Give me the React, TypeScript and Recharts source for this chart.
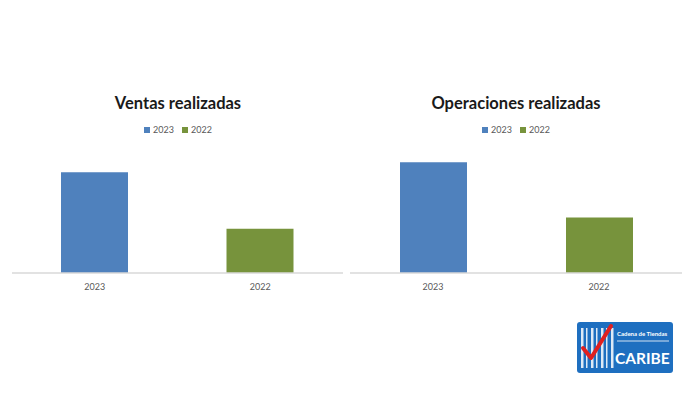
import React from "react";
import { BarChart, Bar, XAxis, YAxis } from "recharts";

const categories = ["2023", "2022"];
const seriesNames = ["2023", "2022"];
const ventasValues = [100, 44];
const operacionesValues = [100, 50];
const colors = ["#4f81bd", "#77933c"];

function buildRows(values: number[]) {
  return categories.map((c, i) => {
    const row: Record<string, string | number> = { cat: c };
    seriesNames.forEach((s, j) => {
      row["s" + s] = i === j ? values[i] : 0;
    });
    return row;
  });
}

const FONT = "Lato, 'Liberation Sans', sans-serif";

function LegendRow(props: { center: number; left: number }) {
  return (
    <div
      style={{
        position: "absolute",
        top: 124,
        left: props.center - props.left - 60,
        width: 120,
        display: "flex",
        justifyContent: "center",
        gap: 8,
        fontFamily: FONT,
        fontSize: 9,
        color: "#595959",
        lineHeight: "12px",
      }}
    >
      {seriesNames.map((s, j) => (
        <span key={s} style={{ display: "flex", alignItems: "center" }}>
          <span style={{ display: "inline-block", width: 6, height: 6, background: colors[j], marginRight: 3 }} />
          {s}
        </span>
      ))}
    </div>
  );
}

function Panel(props: {
  title: string;
  values: number[];
  left: number;
  width: number;
  marginLeft: number;
  marginRight: number;
  marginTop: number;
  titleCenter: number;
}) {
  const data = buildRows(props.values);
  return (
    <div style={{ position: "absolute", left: props.left, top: 0, width: props.width, height: 300 }}>
      <BarChart
        width={props.width}
        height={300}
        data={data}
        margin={{ top: props.marginTop, right: props.marginRight, bottom: 0, left: props.marginLeft }}
      >
        <XAxis
          dataKey="cat"
          height={27}
          axisLine={{ stroke: "#d9d9d9", strokeWidth: 1.5 }}
          tickLine={false}
          tick={{ fontSize: 9, fill: "#595959", fontFamily: FONT }}
          tickMargin={5}
        />
        <YAxis hide domain={[0, 120]} />
        {seriesNames.map((s, j) => (
          <Bar
            key={s}
            dataKey={"s" + s}
            name={s}
            stackId="a"
            fill={colors[j]}
            barSize={67}
            isAnimationActive={false}
          />
        ))}
      </BarChart>
      <div
        style={{
          position: "absolute",
          top: 93,
          left: props.titleCenter - props.left - 120,
          width: 240,
          textAlign: "center",
          fontFamily: FONT,
          fontWeight: 700,
          fontSize: 16.5,
          color: "#1a1a1a",
        }}
      >
        {props.title}
      </div>
      <LegendRow center={props.titleCenter} left={props.left} />
    </div>
  );
}

function Logo() {
  const stripes = [4, 9, 14, 19, 24, 29, 34];
  return (
    <svg style={{ position: "absolute", left: 577, top: 322 }} width={96} height={51}>
      <rect x={0} y={0} width={96} height={51} rx={3} fill="#1e6fc0" />
      {stripes.map((x, i) => (
        <rect key={i} x={x} y={6} width={i % 2 === 0 ? 2.5 : 1.5} height={40} fill="#ffffff" opacity={0.85} />
      ))}
      <text x={40} y={14} fontSize={6} fill="#fff" fontFamily={FONT} fontWeight={700}>
        Cadena de Tiendas
      </text>
      <line x1={40} y1={19} x2={92} y2={19} stroke="#fff" strokeWidth={0.8} />
      <text x={38} y={42} fontSize={15.5} fill="#fff" fontFamily={FONT} fontWeight={700}>
        CARIBE
      </text>
      <path d="M6 26 L14 36 L34 4" stroke="#e02020" strokeWidth={4} fill="none" strokeLinecap="round" strokeLinejoin="round" />
    </svg>
  );
}

export default function App() {
  return (
    <div style={{ position: "absolute", left: 0, top: 0, width: 700, height: 393, background: "#ffffff", overflow: "hidden" }}>
      <Panel
        title="Ventas realizadas"
        values={ventasValues}
        left={0}
        width={350}
        marginLeft={12}
        marginRight={7}
        marginTop={152}
        titleCenter={178}
      />
      <Panel
        title="Operaciones realizadas"
        values={operacionesValues}
        left={350}
        width={350}
        marginLeft={0}
        marginRight={18}
        marginTop={140}
        titleCenter={516}
      />
      <Logo />
    </div>
  );
}
